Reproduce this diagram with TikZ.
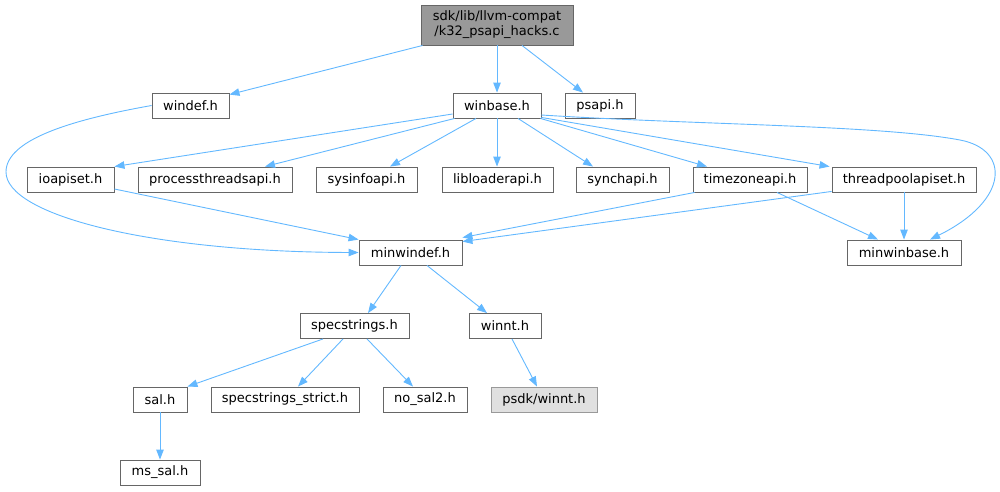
\documentclass[tikz,border=0pt]{standalone}
\usepackage{fontspec}
\setmainfont{DejaVu Sans}
\usetikzlibrary{arrows.meta}

\definecolor{edgeblue}{HTML}{63B8FF}
\definecolor{boxline}{HTML}{666666}
\definecolor{rootfill}{HTML}{999999}
\definecolor{extfill}{HTML}{E0E0E0}
\definecolor{extline}{HTML}{999999}

\begin{document}
\begin{tikzpicture}[x=1pt,y=-1pt,>={Triangle[length=10pt,width=7.5pt]},
	hdr/.style={draw=boxline,line width=0.9pt,fill=white,rectangle,inner sep=0pt,
		minimum height=25pt,font=\fontsize{13}{15}\selectfont},
	rootbox/.style={hdr,fill=rootfill,minimum height=40pt,align=center},
	extbox/.style={hdr,fill=extfill,draw=extline},
	dep/.style={->,draw=edgeblue,line width=0.9pt}]
	\useasboundingbox (0,0) rectangle (1000,491);
	
	% file boxes
	\node[rootbox,minimum width=152pt] (root) at (497,25) {sdk/lib/llvm-compat\\/k32\_psapi\_hacks.c};
	\node[hdr,minimum width=77pt] (windef) at (190.5,105.5) {windef.h};
	\node[hdr,minimum width=88pt] (winbase) at (497,105.5) {winbase.h};
	\node[hdr,minimum width=70pt] (psapi) at (600,105.5) {psapi.h};
	\node[hdr,minimum width=87pt] (ioapiset) at (70.5,179.5) {ioapiset.h};
	\node[hdr,minimum width=154pt] (procthread) at (215,179.5) {processthreadsapi.h};
	\node[hdr,minimum width=101pt] (sysinfo) at (366.5,179.5) {sysinfoapi.h};
	\node[hdr,minimum width=111pt] (libloader) at (497.5,179.5) {libloaderapi.h};
	\node[hdr,minimum width=93pt] (synch) at (622.5,179.5) {synchapi.h};
	\node[hdr,minimum width=114pt] (timezone) at (750,179.5) {timezoneapi.h};
	\node[hdr,minimum width=144pt] (threadpool) at (904,179.5) {threadpoolapiset.h};
	\node[hdr,minimum width=103pt] (minwindef) at (410.5,252.5) {minwindef.h};
	\node[hdr,minimum width=114pt] (minwinbase) at (904,252.5) {minwinbase.h};
	\node[hdr,minimum width=109pt] (specstr) at (354.5,326) {specstrings.h};
	\node[hdr,minimum width=72pt] (winnt) at (505,326) {winnt.h};
	\node[hdr,minimum width=54pt] (sal) at (160,399.5) {sal.h};
	\node[hdr,minimum width=148pt] (strict) at (285,399.5) {specstrings\_strict.h};
	\node[hdr,minimum width=84pt] (nosal) at (425,399.5) {no\_sal2.h};
	\node[extbox,minimum width=106pt] (psdkwinnt) at (544,399.5) {psdk/winnt.h};
	\node[hdr,minimum width=80pt] (mssal) at (160,472.5) {ms\_sal.h};
	
	% includes
	\draw[dep] ([xshift=2pt]root.south west) -- ([yshift=-2pt]windef.north east);
	\draw[dep] (root.south) -- (winbase.north);
	\draw[dep] ([xshift=25pt]root.south) -- ([xshift=-17pt]psapi.north);
	
	\draw[dep] (windef.west) .. controls (70,120) and (6,140) .. (6,172)
		.. controls (6,215) and (150,252) .. (minwindef.west);
	
	\draw[dep] ([yshift=-8.5pt]winbase.west) -- (ioapiset.north east);
	\draw[dep] ([xshift=2pt]winbase.south west) -- ([xshift=50pt]procthread.north);
	\draw[dep] ([xshift=-21pt]winbase.south) -- ([xshift=23.5pt]sysinfo.north);
	\draw[dep] (winbase.south) -- (winbase.south |- libloader.north);
	\draw[dep] ([xshift=21pt]winbase.south) -- ([xshift=-29.5pt]synch.north);
	\draw[dep] ([xshift=-1pt]winbase.south east) -- ([xshift=-43pt]timezone.north);
	\draw[dep] ([yshift=1pt]winbase.south east) -- ([xshift=-2pt]threadpool.north west);
	\draw[dep] ([yshift=-9.5pt]winbase.east) .. controls (700,125) and (880,125) .. (960,140)
		.. controls (1010,149.4) and (1010,200) .. ([xshift=26pt]minwinbase.north);
	
	\draw[dep] ([yshift=-9.5pt]ioapiset.east) -- (minwindef.north west);
	\draw[dep] ([xshift=2pt]timezone.south west) -- ([yshift=2pt]minwindef.north east);
	\draw[dep] ([yshift=1pt]threadpool.south west) -- ([yshift=-2pt]minwindef.north east);
	\draw[dep] ([xshift=27pt]timezone.south) -- ([xshift=-26pt]minwinbase.north);
	\draw[dep] (threadpool.south) -- (minwinbase.north);
	
	\draw[dep] ([xshift=-9.5pt]minwindef.south) -- ([xshift=13.5pt]specstr.north);
	\draw[dep] ([xshift=16.5pt]minwindef.south) -- ([xshift=-18pt]winnt.north);
	\draw[dep] ([xshift=-31.5pt]specstr.south) -- (sal.north east);
	\draw[dep] ([xshift=-11.5pt]specstr.south) -- ([xshift=13pt]strict.north);
	\draw[dep] ([xshift=12.5pt]specstr.south) -- ([xshift=-12pt]nosal.north);
	\draw[dep] ([xshift=7pt]winnt.south) -- ([xshift=-7pt]psdkwinnt.north);
	\draw[dep] (sal) -- (mssal);
\end{tikzpicture}
\end{document}
